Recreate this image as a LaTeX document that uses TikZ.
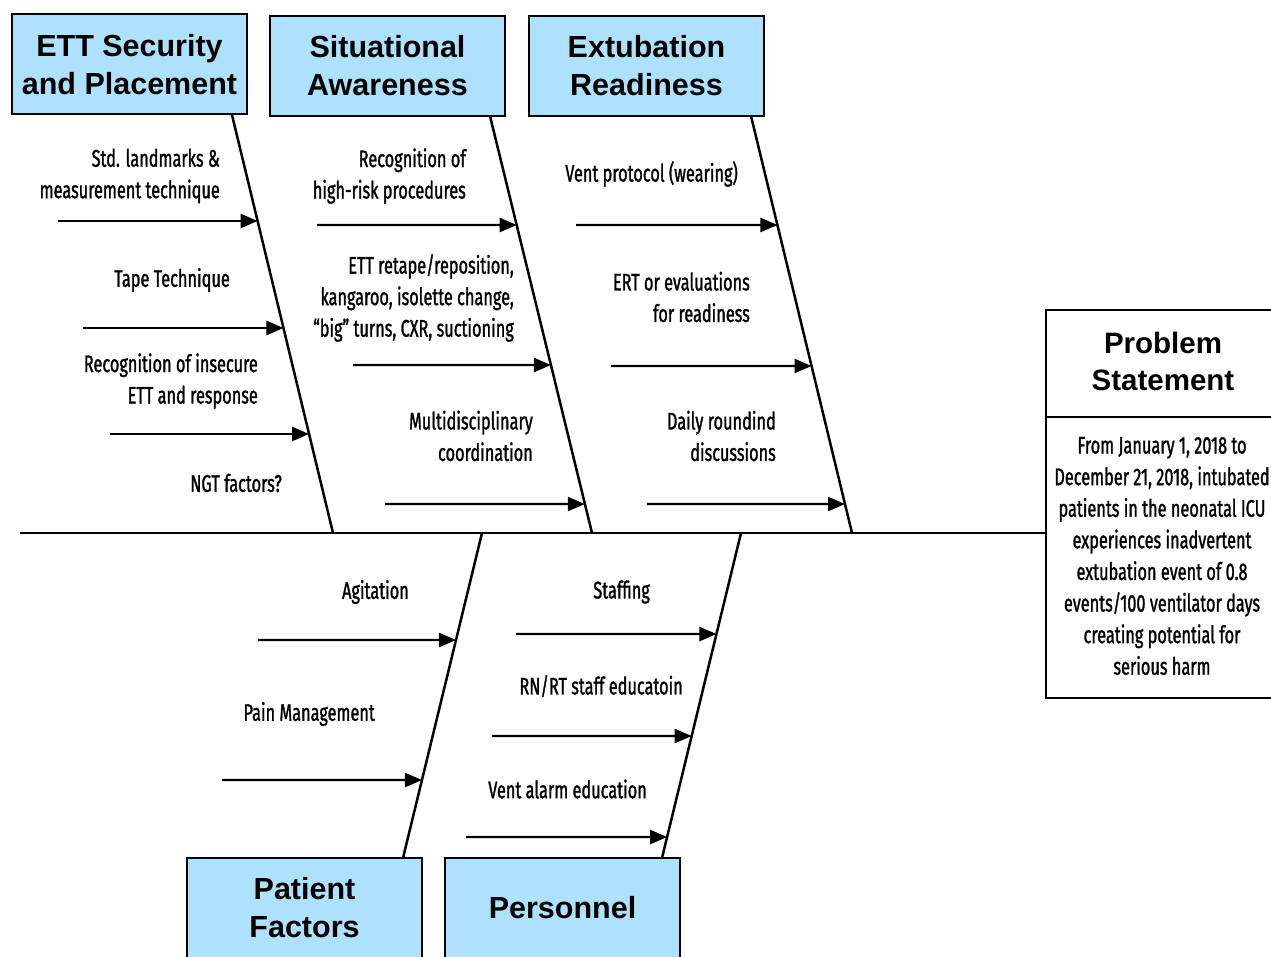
\documentclass[tikz,border=0pt]{standalone}
\usepackage{fontspec}
\setmainfont{Liberation Sans}
\newfontfamily\condfont[FakeStretch=0.68,FakeBold=1.2]{Fira Sans}
\usetikzlibrary{arrows.meta,calc}
\definecolor{catblue}{RGB}{174,226,252}
\newcommand\bonearrow[4]{%
  \draw[arr] (#1,#2) -- (intersection cs:first line={(#1,#2)--(#1+10,#2)}, second line={(#3)--(#4)});}
\begin{document}
\begin{tikzpicture}[x=1pt,y=-1pt,
  catbox/.style={draw=black, line width=2pt, fill=catblue, minimum width=235pt, minimum height=100pt,
    inner sep=0pt, align=center, font=\bfseries\fontsize{30.5}{38}\selectfont},
  bone/.style={line width=2.5pt},
  arr/.style={line width=2.4pt, -{Triangle[length=17pt,width=14pt]}},
  lbl/.style={font=\condfont\fontsize{24}{31.5}\selectfont, inner sep=0pt, align=right, anchor=east},
  ptitle/.style={font=\bfseries\fontsize{29.5}{37}\selectfont, align=center, inner sep=0pt},
  pbody/.style={font=\condfont\fontsize{24}{31.6}\selectfont, align=center, inner sep=0pt},
]
\useasboundingbox (0,0) rectangle (1271,957);

% category boxes
\node[catbox] (c1) at (129.5,64.5) {ETT Security\\and Placement};
\node[catbox] (c2) at (387.5,66) {Situational\\Awareness};
\node[catbox] (c3) at (646.5,66) {Extubation\\Readiness};
\node[catbox] (c4) at (304.5,908) {Patient\\Factors};
\node[catbox] (c5) at (562.5,908) {Personnel};

% problem statement
\node[draw=black, line width=2pt, minimum width=240pt, minimum height=388pt, inner sep=0pt] (pbox) at (1166,504) {};
\coordinate (pdivl) at (1046,417);
\draw[line width=2pt] (pdivl) -- (pdivl -| pbox.east);
\node[ptitle] (ptit) at (1163,361) {Problem\\Statement};
\node[pbody] (ptxt) at (1162,556) {From January 1, 2018 to\\December 21, 2018, intubated\\patients in the neonatal ICU\\experiences inadvertent\\extubation event of 0.8\\events/100 ventilator days\\creating potential for\\serious harm};

% spine
\coordinate (sp0) at (20,533);
\draw[bone] (sp0) -- (sp0 -| pbox.west);

% bones
\coordinate (b1s) at (232,115); \coordinate (b1e) at (333,533);
\coordinate (b2s) at (490,116); \coordinate (b2e) at (592,533);
\coordinate (b3s) at (751,116); \coordinate (b3e) at (852,533);
\coordinate (b4s) at (482,533); \coordinate (b4e) at (403,858);
\coordinate (b5s) at (741,533); \coordinate (b5e) at (662,858);
\draw[bone] (b1s) -- (b1e);
\draw[bone] (b2s) -- (b2e);
\draw[bone] (b3s) -- (b3e);
\draw[bone] (b4s) -- (b4e);
\draw[bone] (b5s) -- (b5e);

% arrows
\bonearrow{58}{221}{b1s}{b1e}
\bonearrow{83}{328}{b1s}{b1e}
\bonearrow{110}{434}{b1s}{b1e}
\bonearrow{317}{225}{b2s}{b2e}
\bonearrow{353}{365}{b2s}{b2e}
\bonearrow{385}{504}{b2s}{b2e}
\bonearrow{576}{225}{b3s}{b3e}
\bonearrow{611}{366}{b3s}{b3e}
\bonearrow{647}{504}{b3s}{b3e}
\bonearrow{258}{640}{b4s}{b4e}
\bonearrow{222}{780}{b4s}{b4e}
\bonearrow{516}{634}{b5s}{b5e}
\bonearrow{492}{736}{b5s}{b5e}
\bonearrow{466}{837}{b5s}{b5e}

% labels
\node[lbl] (l11) at (220,176) {Std. landmarks \&\\measurement technique};
\node[lbl] (l12) at (230,280) {Tape Technique};
\node[lbl] (l13) at (258,381) {Recognition of insecure\\ETT and response};
\node[lbl] (l14) at (282,483) {NGT factors?};
\node[lbl] (l21) at (466,176) {Recognition of\\high-risk procedures};
\node[lbl] (l22) at (514,298) {ETT retape/reposition,\\kangaroo, isolette change,\\“big” turns, CXR, suctioning};
\node[lbl] (l23) at (533,436) {Multidisciplinary\\coordination};
\node[lbl] (l31) at (738,174) {Vent protocol (wearing)};
\node[lbl] (l32) at (750,297) {ERT or evaluations\\for readiness};
\node[lbl] (l33) at (776,436) {Daily roundind\\discussions};
\node[lbl] (l41) at (409,592) {Agitation};
\node[lbl] (l42) at (375,714) {Pain Management};
\node[lbl] (l51) at (650,592) {Staffing};
\node[lbl] (l52) at (683,686) {RN/RT staff educatoin};
\node[lbl] (l53) at (647,789) {Vent alarm education};
\end{tikzpicture}
\end{document}
